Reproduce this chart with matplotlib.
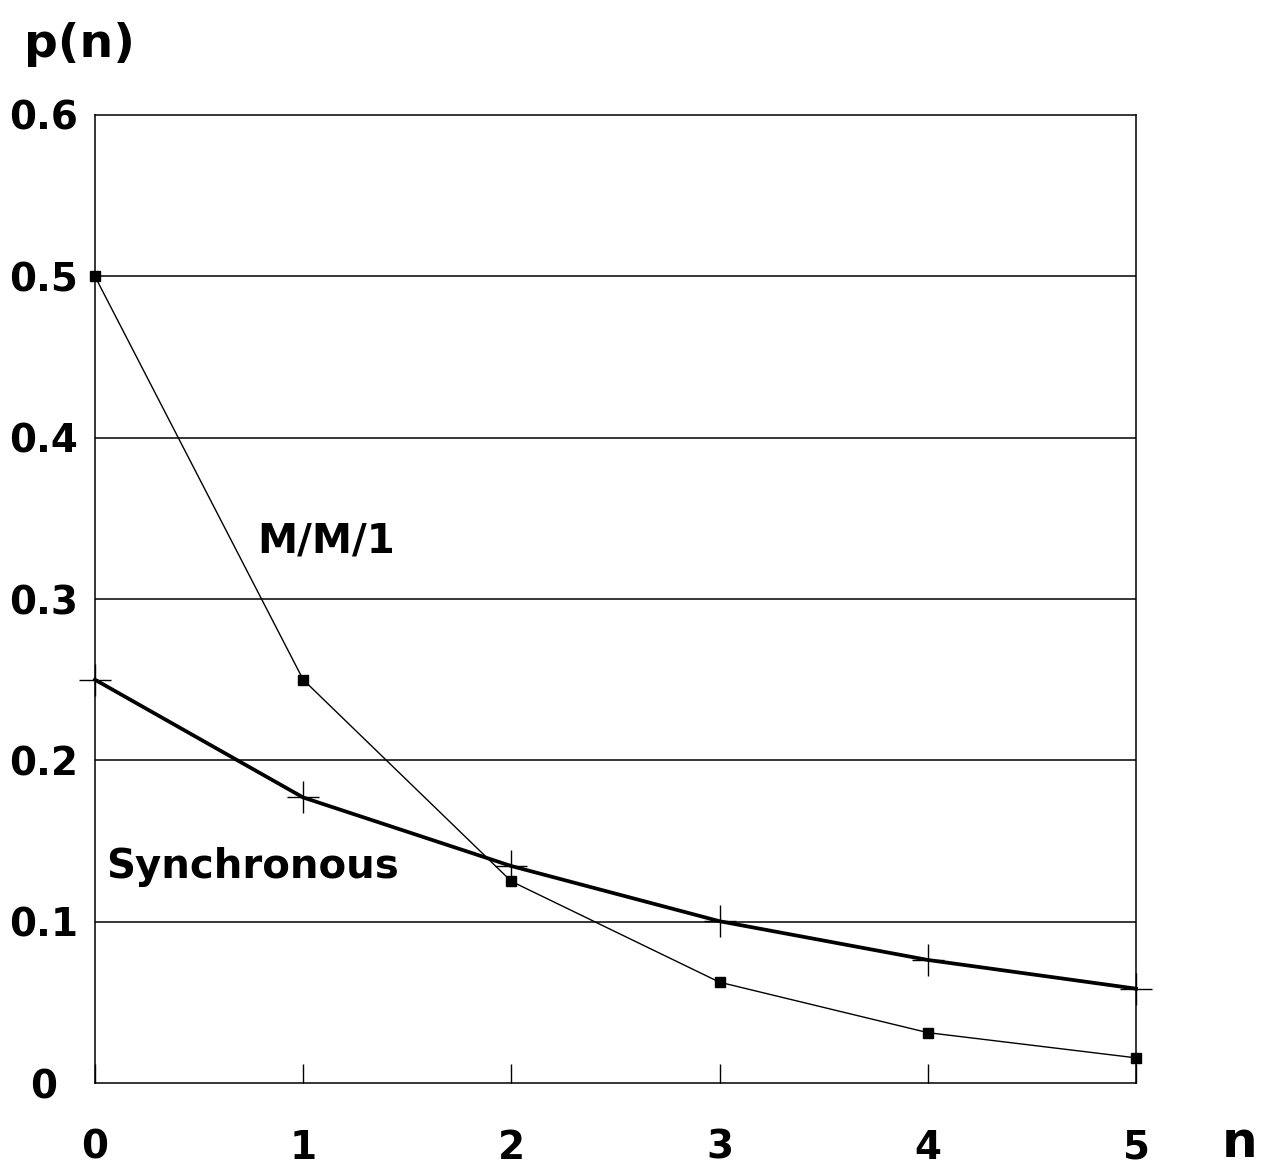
import matplotlib.pyplot as plt
import numpy as np

plt.rcParams['font.family'] = ['DejaVu Sans']
plt.rcParams['font.weight'] = 'bold'

# queue length n and steady state probabilities
n = [0, 1, 2, 3, 4, 5]
p_mm1 = [0.5, 0.25, 0.125, 0.0625, 0.03125, 0.015625]
p_sync = [0.25, 0.177, 0.1345, 0.1003, 0.0763, 0.0585]

yticks = [0, 0.1, 0.2, 0.3, 0.4, 0.5, 0.6]
ytick_labels = ["0", "0.1", "0.2", "0.3", "0.4", "0.5", "0.6"]
xtick_labels = ["0", "1", "2", "3", "4", "5"]

fig = plt.figure(figsize=(12.61, 11.71), dpi=100)
ax = fig.add_axes([0.0753, 0.0751, 0.8256, 0.8267])

# horizontal grid
for y in yticks[1:-1]:
    ax.axhline(y, color='black', lw=1.1, zorder=1)

ax.plot(n, p_mm1, color='black', lw=1.0, marker='s', markersize=6.5,
        clip_on=False, zorder=3)
ax.plot(n, p_sync, color='black', lw=2.7, marker='+', markersize=23,
        markeredgewidth=1.0, clip_on=False, zorder=3)

ax.set_xlim(0, 5)
ax.set_ylim(0, 0.6)
for s in ax.spines.values():
    s.set_linewidth(1.1)

ax.set_xticks(n)
ax.set_xticklabels(xtick_labels, fontsize=28)
ax.tick_params(axis='x', direction='in', length=14, width=1.0, pad=33)
ax.set_yticks(yticks)
ax.set_yticklabels(ytick_labels, fontsize=28, ha='center')
ax.tick_params(axis='y', length=0, pad=37)

ax.text(0.78, 0.329, "M/M/1", fontsize=29, ha='left', va='baseline')
ax.text(0.055, 0.127, "Synchronous", fontsize=29, ha='left', va='baseline')

fig.text(0.019, 0.951, "p(n)", fontsize=34, ha='left', va='baseline')
fig.text(0.969, 0.012, "n", fontsize=36, ha='left', va='baseline')

fig.savefig("out.png", dpi=100)
